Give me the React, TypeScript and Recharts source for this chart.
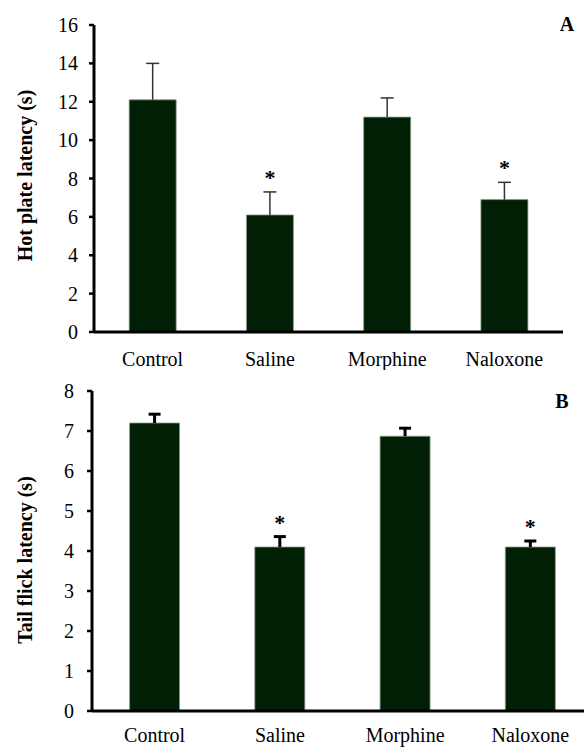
// Hot plate / tail flick latency — two stacked bar panels (A, B)
import { BarChart, Bar, XAxis, YAxis, LabelList } from 'recharts';

const groups = ['Control', 'Saline', 'Morphine', 'Naloxone'];

// panel A: hot plate latency (s), mean and upper SEM
const hotPlateMean = [12.1, 6.1, 11.2, 6.9];
const hotPlateErr = [1.9, 1.2, 1.0, 0.9];
const hotPlateTicks = [0, 2, 4, 6, 8, 10, 12, 14, 16];

// panel B: tail flick latency (s)
const tailFlickMean = [7.2, 4.1, 6.87, 4.1];
const tailFlickErr = [0.22, 0.26, 0.2, 0.15];
const tailFlickTicks = [0, 1, 2, 3, 4, 5, 6, 7, 8];

const significance = ['', '*', '', '*'];

const FONT = '"Liberation Serif", "Times New Roman", "DejaVu Serif", serif';
const BAR_FILL = '#001f05';

const hotPlateData = groups.map((g, i) => ({
  group: g,
  mean: hotPlateMean[i],
  err: hotPlateErr[i],
  sig: significance[i],
}));

const tailFlickData = groups.map((g, i) => ({
  group: g,
  mean: tailFlickMean[i],
  err: tailFlickErr[i],
  sig: significance[i],
}));

// error segment drawn on top of the mean bar (stacked), only the upper whisker
function makeWhisker(stroke: string, strokeWidth: number, cap: number) {
  return (p: any) => {
    const { x, y, width, height } = p;
    if (x == null || y == null) return <g />;
    const cx = x + width / 2;
    return (
      <g>
        <line x1={cx} x2={cx} y1={y + height} y2={y} stroke={stroke} strokeWidth={strokeWidth} />
        <line x1={cx - cap / 2} x2={cx + cap / 2} y1={y} y2={y} stroke={stroke} strokeWidth={strokeWidth} />
      </g>
    );
  };
}

function starLabel(lift: number) {
  return (p: any) => {
    if (!p.value) return null;
    return (
      <text
        x={p.x + p.width / 2}
        y={p.y - lift}
        textAnchor="middle"
        style={{ fontFamily: FONT }}
        fontWeight="bold"
        fontSize={22}
        fill="#000"
      >
        {p.value}
      </text>
    );
  };
}

function axisTitle(text: string, shift: number) {
  return (p: any) => {
    const vb = p.viewBox || { y: 0, height: 0 };
    const cy = vb.y + vb.height / 2 + shift;
    return (
      <text
        x={25}
        y={cy}
        transform={`rotate(-90, 25, ${cy})`}
        textAnchor="middle"
        dominantBaseline="central"
        style={{ fontFamily: FONT }}
        fontWeight="bold"
        fontSize={20}
        fill="#000"
      >
        {text}
      </text>
    );
  };
}

const tickStyle = { fontFamily: FONT, fontSize: 20, fill: '#000', style: { fontFamily: FONT } };

export default function App() {
  return (
    <div
      style={{
        position: 'absolute',
        left: 0,
        top: 0,
        width: 584,
        height: 747,
        overflow: 'hidden',
        background: '#fff',
        fontFamily: FONT,
      }}
    >
      <div style={{ position: 'absolute', left: 0, top: 0 }}>
        <BarChart
          width={584}
          height={370}
          data={hotPlateData}
          margin={{ top: 25, right: 21, bottom: 8, left: 0 }}
          barCategoryGap="30%"
        >
          <XAxis
            dataKey="group"
            height={30}
            axisLine={{ stroke: '#000', strokeWidth: 3 }}
            tickLine={false}
            tickSize={0}
            tickMargin={20}
            tick={tickStyle}
            interval={0}
          />
          <YAxis
            width={94}
            domain={[0, 16]}
            ticks={hotPlateTicks}
            interval={0}
            axisLine={{ stroke: '#000', strokeWidth: 3 }}
            tickLine={{ stroke: '#000', strokeWidth: 2.5 }}
            tickSize={5}
            tickMargin={11}
            tick={tickStyle}
            label={{ content: axisTitle('Hot plate latency (s)', -3) }}
          />
          <Bar
            dataKey="mean"
            stackId="s"
            fill={BAR_FILL}
            stroke="#8c998c"
            strokeWidth={0.8}
            isAnimationActive={false}
          />
          <Bar
            dataKey="err"
            stackId="s"
            fill="none"
            shape={makeWhisker('#333', 1.5, 13)}
            isAnimationActive={false}
          >
            <LabelList dataKey="sig" content={starLabel(7)} />
          </Bar>
        </BarChart>
      </div>

      <div style={{ position: 'absolute', left: 0, top: 370 }}>
        <BarChart
          width={600}
          height={377}
          data={tailFlickData}
          margin={{ top: 21, right: 7, bottom: 6, left: 0 }}
          barCategoryGap="30%"
        >
          <XAxis
            dataKey="group"
            height={30}
            axisLine={{ stroke: '#000', strokeWidth: 3 }}
            tickLine={false}
            tickSize={0}
            tickMargin={17}
            tick={tickStyle}
            interval={0}
          />
          <YAxis
            width={92}
            domain={[0, 8]}
            ticks={tailFlickTicks}
            interval={0}
            axisLine={{ stroke: '#000', strokeWidth: 3 }}
            tickLine={{ stroke: '#000', strokeWidth: 2.5 }}
            tickSize={5}
            tickMargin={13}
            tick={tickStyle}
            label={{ content: axisTitle('Tail flick latency (s)', 9) }}
          />
          <Bar
            dataKey="mean"
            stackId="s"
            fill={BAR_FILL}
            stroke="#8c998c"
            strokeWidth={0.8}
            isAnimationActive={false}
          />
          <Bar
            dataKey="err"
            stackId="s"
            fill="none"
            shape={makeWhisker('#000', 3, 12)}
            isAnimationActive={false}
          >
            <LabelList dataKey="sig" content={starLabel(7)} />
          </Bar>
        </BarChart>
      </div>

      <svg
        width={584}
        height={747}
        style={{ position: 'absolute', left: 0, top: 0, pointerEvents: 'none', fontFamily: FONT }}
      >
        <text x={567} y={24} textAnchor="middle" dominantBaseline="central" fontWeight="bold" fontSize={20}>
          A
        </text>
        <text x={562} y={401} textAnchor="middle" dominantBaseline="central" fontWeight="bold" fontSize={20}>
          B
        </text>
      </svg>
    </div>
  );
}
